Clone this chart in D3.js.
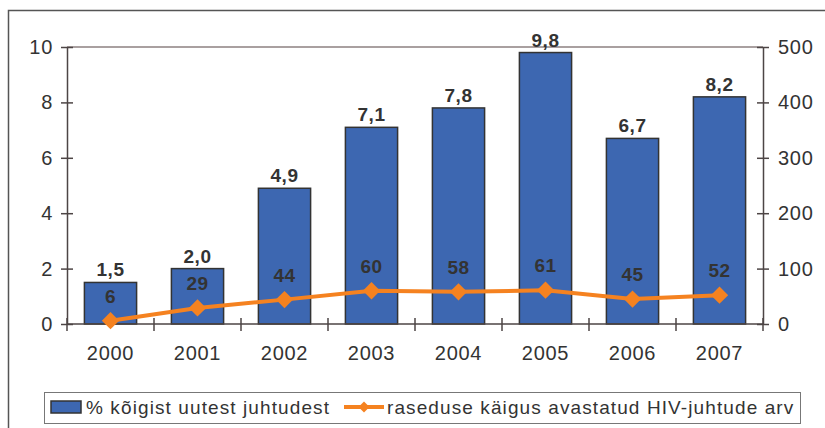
<!DOCTYPE html>
<html>
<head>
<meta charset="utf-8">
<script src="https://cdn.jsdelivr.net/npm/d3@7"></script>
<style>
  body { margin: 0; background: #fff; }
  svg { font-family: "Liberation Sans", Arial, sans-serif; }
</style>
</head>
<body>
<div id="chart"></div>
<script>
const WIDTH = 825
const HEIGHT = 428

// data
const years = ["2000", "2001", "2002", "2003", "2004", "2005", "2006", "2007"]
const percentNew = [1.5, 2.0, 4.9, 7.1, 7.8, 9.8, 6.7, 8.2]
const pregnancyCases = [6, 29, 44, 60, 58, 61, 45, 52]
const leftTicks = [0, 2, 4, 6, 8, 10]
const rightTicks = [0, 100, 200, 300, 400, 500]
const legendLabels = ["% kõigist uutest juhtudest", "raseduse käigus avastatud HIV-juhtude arv"]

const BAR_COLOR = "#3d67b1"
const LINE_COLOR = "#f58220"
const TEXT_COLOR = "#333333"
const AXIS_COLOR = "#4d4545"

const plot = {left: 67, right: 763, top: 47, bottom: 324}

const svg = d3.select("#chart")
  .append("svg")
  .attr("width", WIDTH)
  .attr("height", HEIGHT)

// outer frame (top + left edges visible)
svg.append("path")
  .attr("d", "M8.5," + HEIGHT + " V10.5 H" + WIDTH)
  .attr("fill", "none")
  .attr("stroke", "#555")
  .attr("stroke-width", 1.5)

let x = d3.scaleBand()
  .domain(years)
  .range([plot.left, plot.right])
  .paddingInner(0.4)
  .paddingOuter(0.2)

let yLeft = d3.scaleLinear().domain([0, 10]).range([plot.bottom, plot.top])
let yRight = d3.scaleLinear().domain([0, 500]).range([plot.bottom, plot.top])

// top border of plot area
svg.append("line")
  .attr("x1", plot.left).attr("x2", plot.right)
  .attr("y1", plot.top).attr("y2", plot.top)
  .attr("stroke", "#8c8080").attr("stroke-width", 1.5)

// bars
svg.selectAll("rect.bar")
  .data(percentNew)
  .enter()
  .append("rect")
  .attr("class", "bar")
  .attr("x", (d, i) => x(years[i]))
  .attr("y", d => yLeft(d))
  .attr("width", x.bandwidth())
  .attr("height", d => plot.bottom - yLeft(d))
  .attr("fill", BAR_COLOR)
  .attr("stroke", "#333")
  .attr("stroke-width", 1.5)

// left axis
let leftAxis = d3.axisLeft(yLeft).tickValues(leftTicks).tickSizeInner(6).tickSizeOuter(0)
let gl = svg.append("g").attr("transform", "translate(" + plot.left + ",0)").call(leftAxis)
gl.selectAll("line").attr("x2", -6).attr("x1", 6)
gl.selectAll("text").attr("x", -14)

// right axis
let rightAxis = d3.axisRight(yRight).tickValues(rightTicks).tickSizeInner(6).tickSizeOuter(0)
let gr = svg.append("g").attr("transform", "translate(" + plot.right + ",0)").call(rightAxis)
gr.selectAll("line").attr("x1", -6).attr("x2", 6)
gr.selectAll("text").attr("x", 15)

// bottom axis: ticks between categories
let gb = svg.append("g")
gb.append("line")
  .attr("x1", plot.left).attr("x2", plot.right)
  .attr("y1", plot.bottom).attr("y2", plot.bottom)
let boundaries = d3.range(years.length + 1).map(i => plot.left + i * (plot.right - plot.left) / years.length)
gb.selectAll("line.tick")
  .data(boundaries)
  .enter()
  .append("line")
  .attr("class", "tick")
  .attr("x1", d => d).attr("x2", d => d)
  .attr("y1", plot.bottom - 6).attr("y2", plot.bottom + 7)
gb.selectAll("text")
  .data(years)
  .enter()
  .append("text")
  .attr("x", d => x(d) + x.bandwidth() / 2)
  .attr("y", 360)
  .attr("text-anchor", "middle")
  .text(d => d)

svg.selectAll("g path.domain, g line").attr("stroke", AXIS_COLOR).attr("stroke-width", 1.5)
svg.selectAll("g text")
  .attr("font-size", 20)
  .attr("letter-spacing", 0.7)
  .attr("fill", TEXT_COLOR)
  .attr("font-family", "Liberation Sans, Arial, sans-serif")

// bar value labels
svg.selectAll("text.barlab")
  .data(percentNew)
  .enter()
  .append("text")
  .attr("class", "barlab")
  .attr("x", (d, i) => x(years[i]) + x.bandwidth() / 2)
  .attr("y", d => yLeft(d) - 6)
  .attr("text-anchor", "middle")
  .attr("font-size", 19)
  .attr("letter-spacing", 0.5)
  .attr("font-weight", "bold")
  .attr("fill", TEXT_COLOR)
  .text(d => d.toFixed(1).replace(".", ","))

// line
let cx = (d, i) => x(years[i]) + x.bandwidth() / 2
let line = d3.line()
  .x((d, i) => cx(d, i))
  .y(d => yRight(d))

svg.append("path")
  .datum(pregnancyCases)
  .attr("d", line)
  .attr("fill", "none")
  .attr("stroke", LINE_COLOR)
  .attr("stroke-width", 4)

let diamond = d3.symbol().type(d3.symbolSquare).size(150)
svg.selectAll("path.marker")
  .data(pregnancyCases)
  .enter()
  .append("path")
  .attr("class", "marker")
  .attr("d", diamond)
  .attr("transform", (d, i) => "translate(" + cx(d, i) + "," + yRight(d) + ") rotate(45)")
  .attr("fill", LINE_COLOR)

svg.selectAll("text.linelab")
  .data(pregnancyCases)
  .enter()
  .append("text")
  .attr("class", "linelab")
  .attr("x", (d, i) => cx(d, i))
  .attr("y", d => yRight(d) - 18)
  .attr("text-anchor", "middle")
  .attr("font-size", 19)
  .attr("letter-spacing", 0.5)
  .attr("font-weight", "bold")
  .attr("fill", TEXT_COLOR)
  .text(d => d)

// legend
let lg = svg.append("g")
lg.append("rect")
  .attr("x", 44.5).attr("y", 392.5)
  .attr("width", 756).attr("height", 31)
  .attr("fill", "#fff").attr("stroke", "#777").attr("stroke-width", 1)
lg.append("rect")
  .attr("x", 51).attr("y", 401)
  .attr("width", 30).attr("height", 12)
  .attr("fill", BAR_COLOR).attr("stroke", "#333").attr("stroke-width", 1.5)
lg.append("text")
  .attr("x", 86).attr("y", 414)
  .attr("font-size", 19).attr("letter-spacing", 1.1).attr("fill", TEXT_COLOR)
  .text(legendLabels[0])
lg.append("line")
  .attr("x1", 344).attr("x2", 384)
  .attr("y1", 407).attr("y2", 407)
  .attr("stroke", LINE_COLOR).attr("stroke-width", 4)
lg.append("path")
  .attr("d", d3.symbol().type(d3.symbolSquare).size(60))
  .attr("transform", "translate(364,407) rotate(45)")
  .attr("fill", LINE_COLOR)
lg.append("text")
  .attr("x", 387).attr("y", 414)
  .attr("font-size", 19).attr("letter-spacing", 1.1).attr("fill", TEXT_COLOR)
  .text(legendLabels[1])
</script>
</body>
</html>
